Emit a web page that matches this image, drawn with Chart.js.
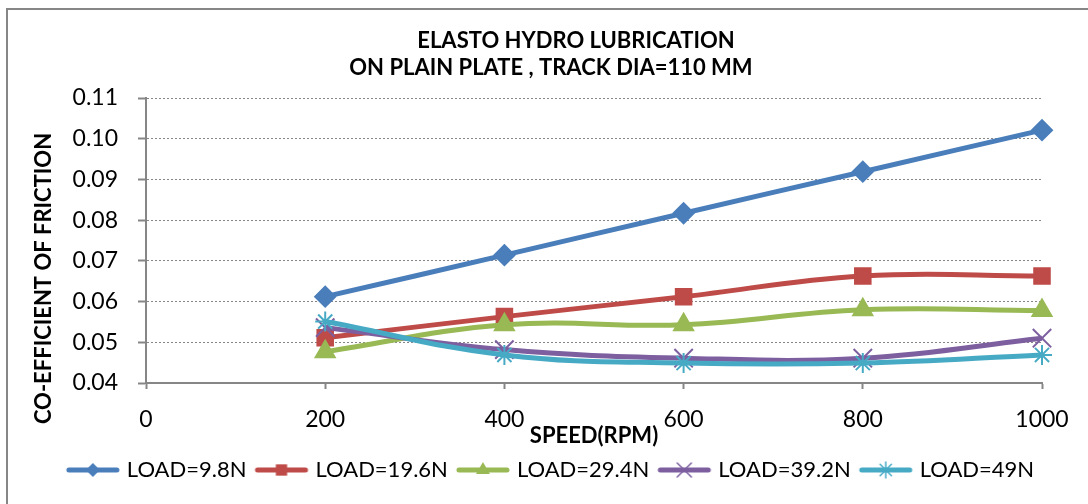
<!DOCTYPE html>
<html>
<head>
<meta charset="utf-8">
<script src="https://cdn.jsdelivr.net/npm/chart.js@4/dist/chart.umd.min.js"></script>
<style>
  html, body { margin: 0; padding: 0; background: #fff; }
  #wrap { width: 1088px; height: 504px; position: relative; }
</style>
</head>
<body>
<div id="wrap"><canvas id="chart" width="1088" height="504"></canvas></div>
<script>
// Speeds (rpm) and coefficient of friction per load
const speeds  = [200, 400, 600, 800, 1000];
const load98  = [0.0612, 0.0714, 0.0817, 0.0919, 0.1021];
const load196 = [0.0511, 0.0563, 0.0612, 0.0663, 0.0663];
const load294 = [0.0477, 0.0543, 0.0543, 0.0580, 0.0578];
const load392 = [0.0536, 0.0482, 0.0461, 0.0461, 0.0510];
const load49  = [0.0551, 0.0469, 0.0449, 0.0449, 0.0469];

const seriesNames = ['LOAD=9.8N', 'LOAD=19.6N', 'LOAD=29.4N', 'LOAD=39.2N', 'LOAD=49N'];
const seriesValues = [load98, load196, load294, load392, load49];

const titleLines = ['ELASTO HYDRO LUBRICATION', 'ON PLAIN PLATE , TRACK DIA=110 MM'];
const xTitle = 'SPEED(RPM)';
const yTitle = 'CO-EFFICIENT OF FRICTION';

// Series appearance
const styles = [
  { color: '#4A7EBB', marker: 'rectRot',  radius: 10, mark: 2, legendR: 7 },
  { color: '#BE4B48', marker: 'rect',     radius: 11, mark: 2, legendR: 8 },
  { color: '#98B954', marker: 'triangle', radius: 11, mark: 2, legendR: 8 },
  { color: '#7D5FA0', marker: 'crossRot', radius: 13, mark: 2, legendR: 10 },
  { color: '#46AAC5', marker: 'star',     radius: 10, mark: 2, legendR: 8 }
];

const FONT = 'Lato, "Open Sans", sans-serif';
const AXIS_GREY = '#868686';
Chart.defaults.font.family = FONT;
Chart.defaults.color = '#000';

// Small line-plus-marker swatches for the legend
function drawMarker(g, type, x, y, r) {
  g.beginPath();
  if (type === 'rectRot') {
    g.moveTo(x, y - r); g.lineTo(x + r, y); g.lineTo(x, y + r); g.lineTo(x - r, y); g.closePath(); g.fill();
  } else if (type === 'rect') {
    const s = r * Math.SQRT1_2;
    g.rect(x - s, y - s, 2 * s, 2 * s); g.fill();
  } else if (type === 'triangle') {
    g.moveTo(x, y - r);
    g.lineTo(x + r * Math.sin(2 * Math.PI / 3), y - r * Math.cos(2 * Math.PI / 3));
    g.lineTo(x + r * Math.sin(4 * Math.PI / 3), y - r * Math.cos(4 * Math.PI / 3));
    g.closePath(); g.fill();
  } else if (type === 'crossRot') {
    const s = r * Math.SQRT1_2;
    g.moveTo(x - s, y - s); g.lineTo(x + s, y + s);
    g.moveTo(x - s, y + s); g.lineTo(x + s, y - s);
    g.lineWidth = 1.5; g.stroke();
  } else if (type === 'star') {
    const s = r * Math.SQRT1_2;
    g.moveTo(x - s, y - s); g.lineTo(x + s, y + s);
    g.moveTo(x - s, y + s); g.lineTo(x + s, y - s);
    g.moveTo(x, y - r); g.lineTo(x, y + r);
    g.lineWidth = 1.5; g.stroke();
  }
}
const legendIcons = styles.map(st => {
  const c = document.createElement('canvas');
  c.width = 56; c.height = 24;
  const g = c.getContext('2d');
  g.strokeStyle = st.color; g.fillStyle = st.color;
  g.lineWidth = 5; g.lineCap = 'round';
  g.beginPath(); g.moveTo(4, 12); g.lineTo(52, 12); g.stroke();
  drawMarker(g, st.marker, 28, 12, st.legendR);
  return c;
});

// Chart frame and heading text
const decor = {
  id: 'decor',
  beforeDraw(chart) {
    const ctx = chart.ctx;
    ctx.save();
    ctx.fillStyle = '#fff';
    ctx.fillRect(0, 0, chart.width, chart.height);
    ctx.strokeStyle = AXIS_GREY;
    ctx.lineWidth = 2;
    ctx.beginPath();
    ctx.moveTo(7, chart.height + 2);
    ctx.lineTo(7, 9);
    ctx.lineTo(chart.width + 2, 9);
    ctx.stroke();

    ctx.fillStyle = '#000';
    ctx.textAlign = 'center';
    ctx.textBaseline = 'alphabetic';
    ctx.font = 'bold 22px ' + FONT;
    ctx.fillText(titleLines[0], 576, 48);
    ctx.fillText(titleLines[1], 551, 75);

    const a = chart.chartArea;
    ctx.translate(51, (a.top + a.bottom) / 2 + 38);
    ctx.rotate(-Math.PI / 2);
    ctx.font = 'bold 22px ' + FONT;
    ctx.fillText(yTitle, 0, 0);
    ctx.restore();
  }
};

const datasets = seriesValues.map((vals, i) => ({
  label: seriesNames[i],
  data: speeds.map((s, k) => ({ x: s, y: vals[k] })),
  borderColor: styles[i].color,
  backgroundColor: styles[i].color,
  borderWidth: 5,
  tension: 0.4,
  clip: false,
  pointStyle: styles[i].marker,
  pointRadius: styles[i].radius,
  pointBackgroundColor: styles[i].color,
  pointBorderColor: styles[i].color,
  pointBorderWidth: styles[i].mark,
  order: seriesValues.length - i
}));

new Chart(document.getElementById('chart'), {
  type: 'line',
  data: { datasets },
  plugins: [decor],
  options: {
    responsive: false,
    animation: false,
    events: [],
    layout: { padding: { top: 98, right: 0, bottom: 13, left: 16 } },
    scales: {
      x: {
        type: 'linear',
        min: 0, max: 1000,
        afterFit(s) { s.height = 64; },
        ticks: { stepSize: 200, padding: 17, font: { size: 23 }, callback: v => String(v), maxRotation: 0 },
        grid: { drawOnChartArea: false, drawTicks: true, tickLength: 6, color: AXIS_GREY, tickWidth: 2 },
        border: { display: true, color: AXIS_GREY, width: 2 },
        title: { display: true, text: xTitle, font: { size: 22, weight: 'bold' }, padding: { top: 0, bottom: -2 } }
      },
      y: {
        type: 'linear',
        min: 0.04, max: 0.11,
        afterFit(s) { s.width = 130; },
        ticks: { stepSize: 0.01, padding: 20, font: { size: 23 }, callback: v => v.toFixed(2) },
        grid: { color: AXIS_GREY, lineWidth: 1, tickLength: 8, tickWidth: 2, tickColor: AXIS_GREY, tickBorderDash: [] },
        border: { display: true, color: AXIS_GREY, width: 2, dash: [2, 2] }
      },
      yRight: {
        type: 'linear',
        position: 'right',
        afterFit(s) { s.width = 46; },
        ticks: { display: false },
        grid: { display: false },
        border: { display: false }
      }
    },
    plugins: {
      title: { display: false },
      tooltip: { enabled: false },
      legend: {
        position: 'bottom',
        labels: {
          usePointStyle: true,
          pointStyleWidth: 46,
          boxHeight: 22,
          padding: 12,
          color: '#000',
          font: { size: 22 },
          generateLabels(chart) {
            const items = Chart.defaults.plugins.legend.labels.generateLabels(chart);
            items.forEach(it => { it.pointStyle = legendIcons[it.datasetIndex]; });
            return items.sort((a, b) => a.datasetIndex - b.datasetIndex);
          }
        }
      }
    }
  }
});
</script>
</body>
</html>
